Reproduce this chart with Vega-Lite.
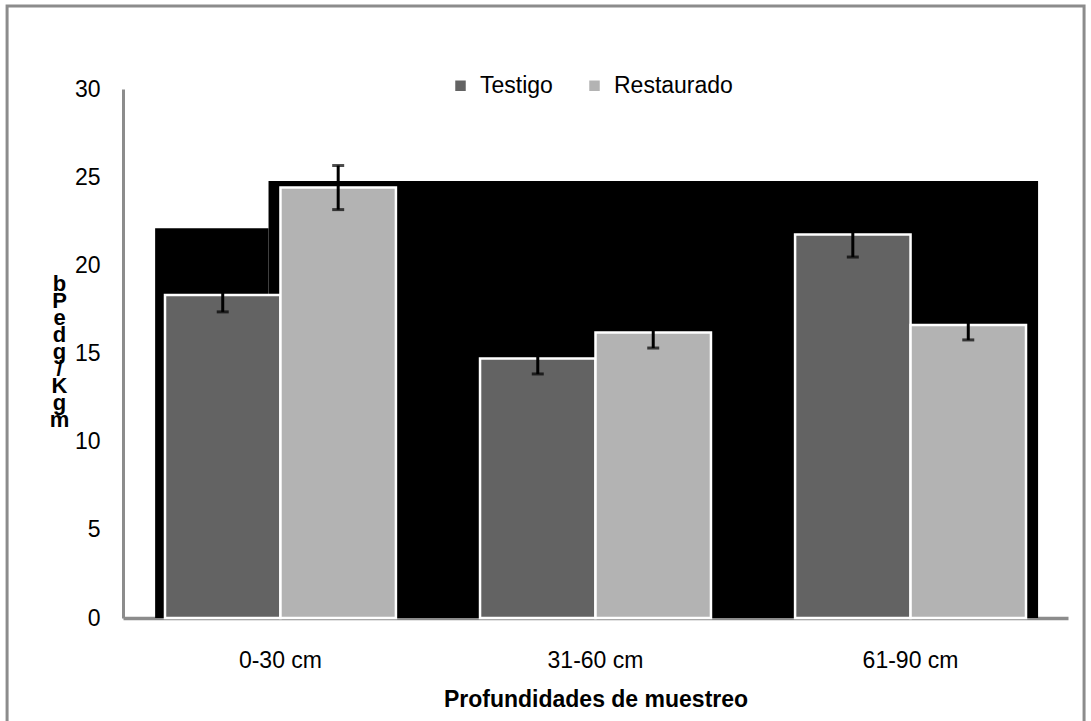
{
  "$schema": "https://vega.github.io/schema/vega-lite/v6.json",
  "width": 945,
  "height": 529,
  "autosize": {"type": "none"},
  "padding": {"left": 123, "top": 89, "right": 23, "bottom": 103},
  "background": "white",
  "config": {"view": {"stroke": null}, "font": "Liberation Sans"},
  "datasets": {
    "bars": [
      {"prof": "0-30 cm", "grupo": "Testigo", "valor": 18.32, "lo": 17.36, "hi": 19.28},
      {"prof": "0-30 cm", "grupo": "Restaurado", "valor": 24.41, "lo": 23.16, "hi": 25.66},
      {"prof": "31-60 cm", "grupo": "Testigo", "valor": 14.72, "lo": 13.84, "hi": 15.6},
      {"prof": "31-60 cm", "grupo": "Restaurado", "valor": 16.19, "lo": 15.31, "hi": 17.07},
      {"prof": "61-90 cm", "grupo": "Testigo", "valor": 21.75, "lo": 20.47, "hi": 23.03},
      {"prof": "61-90 cm", "grupo": "Restaurado", "valor": 16.62, "lo": 15.77, "hi": 17.47}
    ],
    "frame": [{"x0": -0.868, "x1": 2.551, "y0": -6, "y1": 34.7}],
    "black": [
      {"x0": -0.398, "x1": -0.038, "top": 22.1},
      {"x0": -0.038, "x1": 2.405, "top": 24.78}
    ]
  },
  "layer": [
    {
      "layer": [
        {
          "data": {"name": "frame"},
          "mark": {"type": "rect", "fill": null, "stroke": "#8c8c8c", "strokeWidth": 3},
          "encoding": {
            "x": {"field": "x0", "type": "quantitative", "scale": {"domain": [-0.5, 2.5], "nice": false, "zero": false}, "axis": null},
            "x2": {"field": "x1"},
            "y": {"field": "y0", "type": "quantitative", "scale": {"domain": [0, 30], "nice": false}, "axis": null},
            "y2": {"field": "y1"}
          }
        },
        {
          "data": {"name": "black"},
          "mark": {"type": "rect", "fill": "black"},
          "encoding": {
            "x": {"field": "x0", "type": "quantitative", "axis": null},
            "x2": {"field": "x1"},
            "y": {"field": "top", "type": "quantitative", "axis": null},
            "y2": {"datum": 0}
          }
        }
      ]
    },
    {
      "data": {"name": "bars"},
      "encoding": {
        "x": {
          "field": "prof",
          "type": "nominal",
          "sort": null,
          "scale": {"paddingInner": 0.267, "paddingOuter": 0.1333},
          "axis": {
            "title": "Profundidades de muestreo",
            "labelAngle": 0,
            "domainColor": "#8c8c8c",
            "domainWidth": 3.5,
            "ticks": false,
            "tickSize": 0,
            "labelFontSize": 23,
            "labelColor": "black",
            "labelPadding": 31,
            "titleFontSize": 23,
            "titleFontWeight": "bold",
            "titleColor": "black",
            "titlePadding": 16
          }
        },
        "xOffset": {"field": "grupo", "type": "nominal", "sort": ["Testigo", "Restaurado"], "scale": {"domain": ["Testigo", "Restaurado"], "paddingInner": 0, "paddingOuter": 0}}
      },
      "layer": [
        {
          "mark": {"type": "bar", "stroke": "white", "strokeWidth": 2.5},
          "encoding": {
            "y": {
              "field": "valor",
              "type": "quantitative",
              "scale": {"domain": [0, 30], "nice": false},
              "axis": {
                "values": [0, 5, 10, 15, 20, 25, 30],
                "grid": false,
                "ticks": false,
                "tickSize": 0,
                "domainColor": "#8c8c8c",
                "domainWidth": 3,
                "labelFontSize": 23,
                "labelColor": "black",
                "labelPadding": 23,
                "title": ["b", "P", "e", "d", "g", "/", "K", "g", "m"],
                "titleAngle": 0,
                "titleX": -64,
                "titleY": 184,
                "titleAlign": "center",
                "titleBaseline": "top",
                "titleFontSize": 22,
                "titleFontWeight": "bold",
                "titleColor": "black",
                "titleLineHeight": 17
              }
            },
            "color": {
              "field": "grupo",
              "type": "nominal",
              "sort": ["Testigo", "Restaurado"],
              "scale": {"domain": ["Testigo", "Restaurado"], "range": ["#636363", "#b3b3b3"]},
              "legend": {
                "orient": "none",
                "legendX": 326,
                "legendY": -15,
                "direction": "horizontal",
                "title": null,
                "symbolType": "square",
                "symbolSize": 110,
                "symbolStrokeWidth": 0,
                "labelFontSize": 23,
                "labelColor": "black",
                "labelOffset": 8,
                "columnPadding": 30,
                "padding": 0
              }
            }
          }
        },
        {
          "mark": {"type": "rule", "color": "black", "strokeWidth": 3},
          "encoding": {
            "y": {"field": "lo", "type": "quantitative"},
            "y2": {"field": "hi"}
          }
        },
        {
          "mark": {"type": "tick", "color": "black", "size": 12, "thickness": 3, "orient": "horizontal"},
          "encoding": {"y": {"field": "lo", "type": "quantitative"}}
        },
        {
          "mark": {"type": "tick", "color": "black", "size": 12, "thickness": 3, "orient": "horizontal"},
          "encoding": {"y": {"field": "hi", "type": "quantitative"}}
        }
      ]
    }
  ],
  "resolve": {"scale": {"x": "independent", "y": "independent"}}
}
